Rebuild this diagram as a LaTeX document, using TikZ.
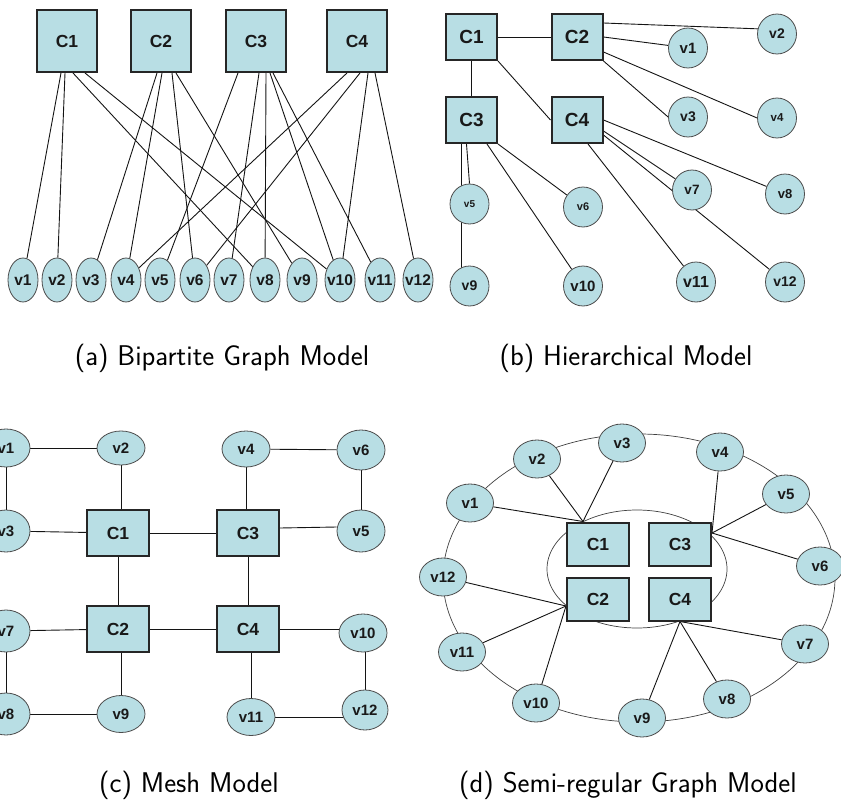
\documentclass[tikz,border=0pt]{standalone}
\usepackage{fontspec}
\newfontfamily\labfont{Liberation Sans}
\usetikzlibrary{shapes.geometric,calc,backgrounds}
\definecolor{nodefill}{RGB}{184,222,228}
\definecolor{edgecol}{RGB}{20,20,20}
\newcommand\zw[1]{\makebox[0pt][c]{#1}}
\newcommand\fs[1]{\labfont\bfseries\fontsize{#1}{#1}\selectfont}
\begin{document}
\begin{tikzpicture}[x=1pt,y=-1pt,
  box/.style={rectangle,draw=black!85,line width=2pt,fill=nodefill,inner sep=0pt,text=black!90,font=\fs{17.5}},
  vel/.style={ellipse,draw=black!70,line width=0.8pt,fill=nodefill,inner sep=0pt,text=black!90,font=\fs{15}},
  edge/.style={draw=edgecol,line width=0.9pt},
  ring/.style={draw=black!75,line width=0.7pt},
  captext/.style={font=\sffamily\fontsize{28.5}{32}\selectfont,anchor=base,inner sep=0pt}]
\useasboundingbox (0,0) rectangle (841,803);

% ---------------- (a) Bipartite ----------------
\foreach \n/\x in {1/67,2/161,3/256,4/357}
  \node[box,minimum width=60pt,minimum height=62pt] (a-c\n) at (\x,41) {C\n};
\foreach \n/\x in {1/23,2/57,3/91,4/126,5/160,6/195,7/229,8/265,9/302,10/340,11/380,12/418}
  \node[vel,minimum width=30pt,minimum height=44pt,font=\fs{15.5}] (a-v\n) at (\x,280) {\zw{v\n}};
\begin{scope}[on background layer]
  \draw[edge] ($(a-c1.south)+(-6,0)$) -- (a-v1);
  \draw[edge] ($(a-c1.south)+(-2,0)$) -- (a-v2);
  \draw[edge] ($(a-c1.south)+(6,0)$) -- (a-v8);
  \draw[edge] ($(a-c1.south)+(18,0)$) -- (a-v10);
  \draw[edge] ($(a-c2.south)+(-4,0)$) -- (a-v3);
  \draw[edge] ($(a-c2.south)+(1,0)$) -- (a-v4);
  \draw[edge] ($(a-c2.south)+(11,0)$) -- (a-v6);
  \draw[edge] ($(a-c2.south)+(15,0)$) -- (a-v9);
  \draw[edge] ($(a-c3.south)+(-18,0)$) -- (a-v5);
  \draw[edge] ($(a-c3.south)+(3,0)$) -- (a-v7);
  \draw[edge] ($(a-c3.south)+(10,0)$) -- (a-v8);
  \draw[edge] ($(a-c3.south)+(14,0)$) -- (a-v10);
  \draw[edge] ($(a-c3.south)+(17,0)$) -- (a-v11);
  \draw[edge] ($(a-c4.south)+(-10,0)$) -- (a-v4);
  \draw[edge] ($(a-c4.south)+(3,0)$) -- (a-v6);
  \draw[edge] ($(a-c4.south)+(11,0)$) -- (a-v10);
  \draw[edge] ($(a-c4.south)+(18,0)$) -- (a-v12);
\end{scope}
\node[captext] (capa) at (222,365) {(a) Bipartite Graph Model};

% ---------------- (b) Hierarchical ----------------
\begin{scope}[box/.append style={minimum width=51pt,minimum height=46pt,font=\fs{19}}]
\node[box] (b-c1) at (471.5,37) {C1};
\node[box] (b-c2) at (577,37) {C2};
\node[box] (b-c3) at (471.5,120) {C3};
\node[box] (b-c4) at (577,120) {C4};
\end{scope}
\begin{scope}[vel/.append style={minimum width=39pt,minimum height=40pt}]
\node[vel,font=\fs{15}] (b-v1) at (688,48) {\zw{v1}};
\node[vel,font=\fs{14}] (b-v2) at (777,34) {\zw{v2}};
\node[vel,font=\fs{14}] (b-v3) at (688,117) {\zw{v3}};
\node[vel,font=\fs{11.5}] (b-v4) at (777,118) {\zw{v4}};
\node[vel,font=\fs{10}] (b-v5) at (469.5,204) {\zw{v5}};
\node[vel,font=\fs{11}] (b-v6) at (583,207) {\zw{v6}};
\node[vel,font=\fs{13.5}] (b-v7) at (692,190) {\zw{v7}};
\node[vel,font=\fs{13}] (b-v8) at (785,194) {\zw{v8}};
\node[vel,font=\fs{14}] (b-v9) at (469.5,286) {\zw{v9}};
\node[vel,font=\fs{15}] (b-v10) at (583,286) {\zw{v10}};
\node[vel,font=\fs{16}] (b-v11) at (696,282) {\zw{v11}};
\node[vel,font=\fs{14}] (b-v12) at (785,282) {\zw{v12}};
\end{scope}
\begin{scope}[on background layer]
  \draw[edge] (b-c1) -- (b-c2);
  \draw[edge] (b-c1) -- (b-c3);
  \draw[edge] (b-c1.south east) -- (b-c4.west);
  \draw[edge] ($(b-c2.east)+(0,-14)$) -- (b-v2.165);
  \draw[edge] (b-c2.east) -- (b-v1);
  \draw[edge] (b-c2.south east) -- (b-v3.west);
  \draw[edge] ($(b-c2.east)+(0,15)$) -- (b-v4.west);
  \draw[edge] ($(b-c3.south)+(-5,0)$) -- (b-v5.north);
  \draw[edge] ($(b-c3.south)+(-10,0)$) -- ($(b-v9.center)+(-8,0)$);
  \draw[edge] (b-c3.south east) -- (b-v6);
  \draw[edge] ($(b-c3.south)+(15.5,0)$) -- (b-v10);
  \draw[edge] (b-c4.east) -- (b-v8);
  \draw[edge] ($(b-c4.east)+(0,11)$) -- (b-v7);
  \draw[edge] ($(b-c4.east)+(0,15)$) -- (b-v12);
  \draw[edge] ($(b-c4.south)+(11,0)$) -- (b-v11);
\end{scope}
\node[captext] (capb) at (626,365) {(b) Hierarchical Model};

% ---------------- (c) Mesh ----------------
\begin{scope}[box/.append style={minimum width=62pt,minimum height=46pt}]
\node[box] (c-c1) at (118,533) {C1};
\node[box] (c-c3) at (248,533) {C3};
\node[box] (c-c2) at (118,629) {C2};
\node[box] (c-c4) at (248,629) {C4};
\end{scope}
\node[vel,minimum width=48pt,minimum height=38pt] (c-v1) at (6,448) {\zw{v1}};
\node[vel,minimum width=48pt,minimum height=34pt] (c-v2) at (121,448) {\zw{v2}};
\node[vel,minimum width=48pt,minimum height=42pt] (c-v3) at (6,531) {\zw{v3}};
\node[vel,minimum width=48pt,minimum height=36pt] (c-v4) at (246,449) {\zw{v4}};
\node[vel,minimum width=48pt,minimum height=40pt] (c-v6) at (361,450) {\zw{v6}};
\node[vel,minimum width=48pt,minimum height=42pt] (c-v5) at (361,531) {\zw{v5}};
\node[vel,minimum width=48pt,minimum height=42pt] (c-v7) at (6,631) {\zw{v7}};
\node[vel,minimum width=48pt,minimum height=42pt] (c-v8) at (6,714) {\zw{v8}};
\node[vel,minimum width=48pt,minimum height=37pt] (c-v9) at (121,714) {\zw{v9}};
\node[vel,minimum width=48pt,minimum height=38pt] (c-v10) at (363,633) {\zw{v10}};
\node[vel,minimum width=48pt,minimum height=37pt] (c-v11) at (251,717) {\zw{v11}};
\node[vel,minimum width=46pt,minimum height=40pt] (c-v12) at (365,710) {\zw{v12}};
\begin{scope}[on background layer]
  \draw[edge] (c-v1) -- (c-v2);
  \draw[edge] (c-v1) -- (c-v3);
  \draw[edge] (c-v3) -- (c-c1);
  \draw[edge] (c-v2) -- (c-v2 |- c-c1.north);
  \draw[edge] (c-c1) -- (c-c3);
  \draw[edge] (c-c1) -- (c-c2);
  \draw[edge] (c-v4) -- (c-v4 |- c-c3.north);
  \draw[edge] (c-v4) -- (c-v6);
  \draw[edge] (c-v6) -- (c-v5);
  \draw[edge] ([yshift=5pt]c-c3.east) -- ([yshift=4pt]c-v5.west);
  \draw[edge] (c-c3) -- (c-c4);
  \draw[edge] (c-c2) -- (c-v7);
  \draw[edge] (c-v7) -- (c-v8);
  \draw[edge] (c-v8) -- (c-v9);
  \draw[edge] (c-v9) -- (c-v9 |- c-c2.south);
  \draw[edge] (c-c2) -- (c-c4);
  \draw[edge] (c-c4) -- (c-c4 -| c-v10.center);
  \draw[edge] (c-v12) -- (c-v12 |- c-v10.center);
  \draw[edge] (c-v11) -- (c-v11 -| c-v12.center);
  \draw[edge] (c-v11) -- (c-v11 |- c-c4.south);
\end{scope}
\node[captext] (capc) at (189,792) {(c) Mesh Model};

% ---------------- (d) Semi-regular ----------------
\begin{scope}[box/.append style={minimum width=62pt,minimum height=43pt}]
\node[box] (d-c1) at (598,544) {C1};
\node[box] (d-c3) at (680,544) {C3};
\node[box] (d-c2) at (598,599) {C2};
\node[box] (d-c4) at (680,599) {C4};
\end{scope}
\foreach \n/\x/\y in {1/470/503,2/537/459,3/622/443,4/720/452,5/786/494,6/820/566,7/805/644,8/727/699,9/642/718,10/536/703,11/462/652,12/443/577}
  \node[vel,minimum width=47pt,minimum height=38pt] (d-v\n) at (\x,\y) {\zw{v\n}};
\coordinate (d-p1) at ($(d-c1.north)+(-15,0)$);
\coordinate (d-p3) at ($(d-c3.east)+(0,-11)$);
\coordinate (d-p2) at ($(d-c2.west)+(0,7)$);
\coordinate (d-p4) at (d-c4.south);
\begin{scope}[on background layer]
  \draw[ring] (639,578) ellipse [x radius=196pt, y radius=144pt];
  \draw[ring] (637,569) ellipse [x radius=90pt, y radius=59pt];
  \draw[edge] (d-v1) -- (d-p1);
  \draw[edge] (d-v2) -- (d-p1);
  \draw[edge] (d-v3) -- (d-p1);
  \draw[edge] (d-v4) -- (d-p3);
  \draw[edge] (d-v5) -- (d-p3);
  \draw[edge] (d-v6) -- (d-p3);
  \draw[edge] (d-v12) -- (d-p2);
  \draw[edge] (d-v11) -- (d-p2);
  \draw[edge] (d-v10) -- (d-p2);
  \draw[edge] (d-v7) -- (d-p4);
  \draw[edge] (d-v8) -- (d-p4);
  \draw[edge] (d-v9) -- (d-p4);
\end{scope}
\node[captext] (capd) at (628,792) {(d) Semi-regular Graph Model};
\end{tikzpicture}
\end{document}
